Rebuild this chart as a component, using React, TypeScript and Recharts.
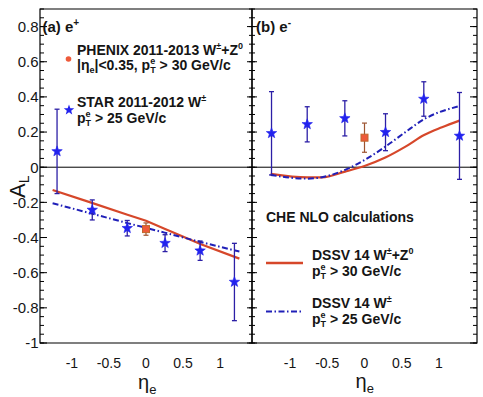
import React from 'react';
import { ComposedChart, Scatter, Line, XAxis, YAxis, ErrorBar, ReferenceLine, ReferenceArea } from 'recharts';

const W = 483;
const H = 397;
const FONT = "'Liberation Sans', Arial, Helvetica, sans-serif";

// ---------- tick labels ----------
const yTickLabels = [-1, -0.8, -0.6, -0.4, -0.2, 0, 0.2, 0.4, 0.6, 0.8];
const xTickLabels = [-1, -0.5, 0, 0.5, 1];
const steps = (from: number, to: number, step: number) => {
  const n = Math.round((to - from) / step);
  return Array.from({ length: n + 1 }, (_, i) => Math.round((from + i * step) * 1000) / 1000);
};
const yMinorTicks = steps(-1, 0.9, 0.05);
const xMinorTicksA = steps(-1.4, 1.4, 0.1);
const xMinorTicksB = steps(-1.5, 1.5, 0.1);

// ---------- panel (a) e+ ----------
const starEtaA = [-1.2, -0.725, -0.253, 0.257, 0.73, 1.193];
const starALA = [0.09, -0.243, -0.347, -0.432, -0.475, -0.653];
const starErrA = [0.24, 0.057, 0.044, 0.048, 0.055, 0.22];
const phenixEtaA = [0];
const phenixALA = [-0.352];
const phenixErrA = [0.035];
const redEtaA = [-1.26, -0.75, -0.25, 0, 0.25, 0.75, 1.26];
const redALA = [-0.13, -0.2, -0.27, -0.305, -0.35, -0.44, -0.52];
const blueEtaA = [-1.26, -0.75, -0.25, 0, 0.25, 0.75, 1.26];
const blueALA = [-0.205, -0.262, -0.318, -0.345, -0.372, -0.427, -0.48];

// ---------- panel (b) e- ----------
const starEtaB = [-1.248, -0.769, -0.264, 0.282, 0.796, 1.275];
const starALB = [0.193, 0.244, 0.278, 0.199, 0.388, 0.178];
const starErrB = [0.237, 0.1, 0.1, 0.105, 0.098, 0.247];
const phenixEtaB = [0];
const phenixALB = [0.168];
const phenixErrB = [0.083];
const redEtaB = [-1.26, -0.77, -0.57, -0.26, 0, 0.28, 0.55, 0.8, 1.04, 1.275];
const redALB = [-0.038, -0.058, -0.058, -0.025, 0.007, 0.055, 0.117, 0.183, 0.227, 0.265];
const blueEtaB = [-1.26, -0.77, -0.57, -0.26, 0, 0.28, 0.55, 0.8, 1.275];
const blueALB = [-0.044, -0.065, -0.057, -0.015, 0.041, 0.117, 0.2, 0.273, 0.348];

// ---------- colours ----------
const RED = '#d6472a';
const BLUE = '#2020b8';
const STAR = '#2222ee';
const STAR_ERR = '#2c1fa6';
const PHX_FILL = '#ee5a3a';
const PHX_STROKE = '#c0682c';
const PHX_ERR = '#9c5430';
const TXT = '#151515';

type Pt = { eta: number; al: number; err?: number };
const zip = (eta: number[], al: number[], err?: number[]): Pt[] =>
  eta.map((e, i) => (err ? { eta: e, al: al[i], err: err[i] } : { eta: e, al: al[i] }));

const starsA = zip(starEtaA, starALA, starErrA);
const phenixA = zip(phenixEtaA, phenixALA, phenixErrA);
const redA = zip(redEtaA, redALA);
const blueA = zip(blueEtaA, blueALA);
const starsB = zip(starEtaB, starALB, starErrB);
const phenixB = zip(phenixEtaB, phenixALB, phenixErrB);
const redB = zip(redEtaB, redALB);
const blueB = zip(blueEtaB, blueALB);

const Y_DOM: [number, number] = [-1, 0.9];
const THIN = 0.001;

const starPoints = (cx: number, cy: number, ro = 5.5, ri = 2.3) => {
  const pts: string[] = [];
  for (let i = 0; i < 10; i++) {
    const r = i % 2 === 0 ? ro : ri;
    const a = -Math.PI / 2 + (i * Math.PI) / 5;
    pts.push(`${cx + r * Math.cos(a)},${cy + r * Math.sin(a)}`);
  }
  return pts.join(' ');
};

const StarShape = (props: any) => {
  const { cx, cy } = props;
  if (cx == null || cy == null) return <g />;
  return <polygon points={starPoints(cx, cy)} fill={STAR} stroke={STAR} strokeWidth={0.6} />;
};

const SquareShape = (props: any) => {
  const { cx, cy } = props;
  if (cx == null || cy == null) return <g />;
  return <rect x={cx - 3.5} y={cy - 3.5} width={7} height={7} fill={PHX_FILL} stroke={PHX_STROKE} strokeWidth={1} />;
};

const emptyTick = () => <g />;
const tl = { stroke: '#000', strokeWidth: 1 };

function tickAxes(
  xDomain: [number, number],
  xMinor: number[],
  leftMajor: number,
  leftMinor: number,
  rightMajor: number,
  rightMinor: number,
  includeLeftMajor: boolean
) {
  const arr = [
    <XAxis key="xM" xAxisId="xM" type="number" domain={xDomain} allowDataOverflow ticks={xTickLabels} interval={0} mirror height={THIN} tickSize={8} tick={emptyTick} axisLine={false} tickLine={tl} />,
    <XAxis key="xm" xAxisId="xm" type="number" domain={xDomain} allowDataOverflow ticks={xMinor} interval={0} mirror height={THIN} tickSize={4} tick={emptyTick} axisLine={false} tickLine={tl} />,
    <YAxis key="yLm" yAxisId="yLm" type="number" domain={Y_DOM} allowDataOverflow ticks={yMinorTicks} interval={0} mirror width={THIN} tickSize={leftMinor} tick={emptyTick} axisLine={false} tickLine={tl} />,
    <YAxis key="yRM" yAxisId="yRM" orientation="right" type="number" domain={Y_DOM} allowDataOverflow ticks={yTickLabels} interval={0} mirror width={THIN} tickSize={rightMajor} tick={emptyTick} axisLine={false} tickLine={tl} />,
    <YAxis key="yRm" yAxisId="yRm" orientation="right" type="number" domain={Y_DOM} allowDataOverflow ticks={yMinorTicks} interval={0} mirror width={THIN} tickSize={rightMinor} tick={emptyTick} axisLine={false} tickLine={tl} />,
  ];
  if (includeLeftMajor) {
    arr.push(
      <YAxis key="yLM" yAxisId="yLM" type="number" domain={Y_DOM} allowDataOverflow ticks={yTickLabels} interval={0} mirror width={THIN} tickSize={leftMajor} tick={emptyTick} axisLine={false} tickLine={tl} />
    );
  }
  return arr;
}

function series(xDom: [number, number], stars: Pt[], phenix: Pt[], red: Pt[], blue: Pt[], curveType: 'linear' | 'monotone') {
  return [
    <ReferenceLine key="zero" xAxisId="x" yAxisId="y" y={0} stroke="#000" strokeWidth={1} />,
    <Line key="red" xAxisId="x" yAxisId="y" data={red} dataKey="al" type={curveType} stroke={RED} strokeWidth={2.2} dot={false} activeDot={false} isAnimationActive={false} />,
    <Line key="blue" xAxisId="x" yAxisId="y" data={blue} dataKey="al" type={curveType} stroke={BLUE} strokeWidth={2} strokeDasharray="6 2.5 1.5 2.5" dot={false} activeDot={false} isAnimationActive={false} />,
    <Scatter key="phx" xAxisId="x" yAxisId="y" data={phenix} dataKey="al" fill={PHX_FILL} shape={SquareShape} isAnimationActive={false}>
      <ErrorBar dataKey="err" direction="y" width={2.5} stroke={PHX_ERR} strokeWidth={1.2} />
    </Scatter>,
    <Scatter key="star" xAxisId="x" yAxisId="y" data={stars} dataKey="al" fill={STAR} shape={StarShape} isAnimationActive={false}>
      <ErrorBar dataKey="err" direction="y" width={2.5} stroke={STAR_ERR} strokeWidth={1.3} />
    </Scatter>,
    <ReferenceArea key="frame" xAxisId="x" yAxisId="y" x1={xDom[0]} x2={xDom[1]} y1={Y_DOM[0]} y2={Y_DOM[1]} fill="none" fillOpacity={0} stroke="#000" strokeWidth={1.2} strokeOpacity={1} ifOverflow="visible" />,
  ];
}

const xTickStyle = { fontSize: 14, fill: TXT, fontFamily: FONT };
const yTickStyle = { fontSize: 15, fill: TXT, fontFamily: FONT };

function PanelA() {
  const xDom: [number, number] = [-1.43, 1.43];
  return (
    <ComposedChart width={W} height={H} margin={{ top: 9, right: 231, bottom: 24, left: 0 }}>
      <XAxis xAxisId="x" dataKey="eta" type="number" domain={xDom} allowDataOverflow ticks={xTickLabels} interval={0} height={30} tickLine={false} axisLine={false} tickSize={0} tickMargin={15} tick={xTickStyle} />
      <YAxis yAxisId="y" type="number" domain={Y_DOM} allowDataOverflow ticks={yTickLabels} interval={0} width={40} tickLine={false} axisLine={false} tickSize={0} tickMargin={1.5} tick={yTickStyle} />
      {tickAxes(xDom, xMinorTicksA, 7, 4, 5, 3, true)}
      {series(xDom, starsA, phenixA, redA, blueA, 'linear')}
    </ComposedChart>
  );
}

function PanelB() {
  const xDom: [number, number] = [-1.51, 1.51];
  return (
    <ComposedChart width={W} height={H} margin={{ top: 9, right: 6, bottom: 24, left: 252 }}>
      <XAxis xAxisId="x" dataKey="eta" type="number" domain={xDom} allowDataOverflow ticks={xTickLabels} interval={0} height={30} tickLine={false} axisLine={false} tickSize={0} tickMargin={15} tick={xTickStyle} />
      <YAxis yAxisId="y" type="number" domain={Y_DOM} allowDataOverflow ticks={yTickLabels} interval={0} mirror width={THIN} tickSize={5} tick={emptyTick} axisLine={false} tickLine={tl} />
      {tickAxes(xDom, xMinorTicksB, 5, 3, 7, 4, false)}
      {series(xDom, starsB, phenixB, redB, blueB, 'monotone')}
    </ComposedChart>
  );
}

const PT = ({ rest }: { rest: string }) => (
  <>
    <tspan>p</tspan>
    <tspan fontSize={9} dy={-6}>e</tspan>
    <tspan fontSize={9} dx={-5} dy={9}>T</tspan>
    <tspan dy={-3}>{rest}</tspan>
  </>
);

function Overlay() {
  return (
    <svg width={W} height={H} style={{ position: 'absolute', left: 0, top: 0, pointerEvents: 'none' }} fontFamily={FONT}>
      <g fontWeight="bold" fill={TXT} fontSize={15}>
        <text x={42.5} y={31.5}>(a) e<tspan fontSize={10} dy={-6}>+</tspan></text>
        <text x={256} y={31.5}>(b) e<tspan fontSize={10} dy={-6}>-</tspan></text>
      </g>
      <g fontWeight="bold" fill={TXT} fontSize={14}>
        <circle cx={68.5} cy={59} r={2.8} fill={PHX_FILL} />
        <text x={77} y={54.5}>
          PHENIX 2011-2013 W<tspan fontSize={9} dy={-6}>±</tspan>
          <tspan dy={6}>+Z</tspan>
          <tspan fontSize={9} dy={-6}>0</tspan>
        </text>
        <text x={77} y={70}>
          |η<tspan fontSize={9} dy={3}>e</tspan>
          <tspan dy={-3}>|&lt;0.35, </tspan>
          <PT rest={' > 30 GeV/c'} />
        </text>
        <polygon points={starPoints(69, 110)} fill={STAR} />
        <text x={77} y={107}>
          STAR 2011-2012 W<tspan fontSize={9} dy={-6}>±</tspan>
        </text>
        <text x={77} y={123}>
          <PT rest={' > 25 GeV/c'} />
        </text>

        <text x={266} y={222}>CHE NLO calculations</text>
        <line x1={266} x2={303} y1={263} y2={263} stroke={RED} strokeWidth={2.4} />
        <text x={312} y={260}>
          DSSV 14 W<tspan fontSize={9} dy={-6}>±</tspan>
          <tspan dy={6}>+Z</tspan>
          <tspan fontSize={9} dy={-6}>0</tspan>
        </text>
        <text x={312} y={275.5}>
          <PT rest={' > 30 GeV/c'} />
        </text>
        <line x1={266} x2={303} y1={311.5} y2={311.5} stroke={BLUE} strokeWidth={2} strokeDasharray="6 2.5 1.5 2.5" />
        <text x={312} y={308}>
          DSSV 14 W<tspan fontSize={9} dy={-6}>±</tspan>
        </text>
        <text x={312} y={323.5}>
          <PT rest={' > 25 GeV/c'} />
        </text>
      </g>
      <g fill={TXT}>
        <text transform="translate(25,198) rotate(-90)" fontSize={22}>
          A<tspan fontSize={14} dy={4}>L</tspan>
        </text>
        <text x={138} y={389} fontSize={20}>
          η<tspan fontSize={13} dy={5}>e</tspan>
        </text>
        <text x={355.5} y={388} fontSize={20}>
          η<tspan fontSize={13} dy={5}>e</tspan>
        </text>
      </g>
    </svg>
  );
}

export default function App() {
  return (
    <div style={{ position: 'absolute', left: 0, top: 0, width: W, height: H, background: '#fff', fontFamily: FONT }}>
      <div style={{ position: 'absolute', left: 0, top: 0 }}>
        <PanelA />
      </div>
      <div style={{ position: 'absolute', left: 0, top: 0 }}>
        <PanelB />
      </div>
      <Overlay />
    </div>
  );
}
